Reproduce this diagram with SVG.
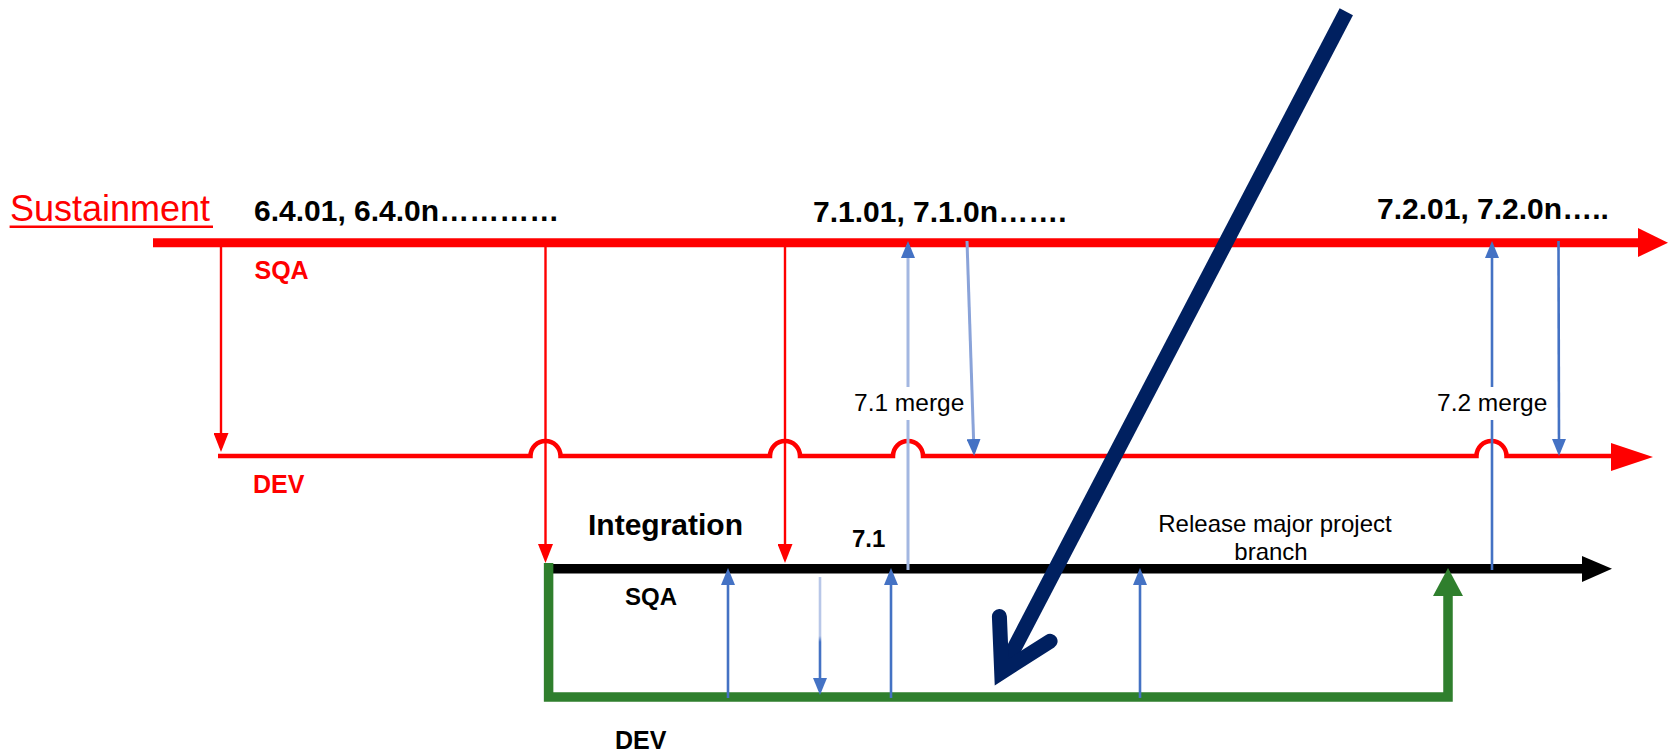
<svg xmlns="http://www.w3.org/2000/svg" width="1674" height="754" viewBox="0 0 1674 754">
<style>
text{font-family:"Liberation Sans",Arial,sans-serif}
.b{font-weight:bold}
.red{fill:#ff0000}
.blk{fill:#000}
.rl{stroke:#ff0000;stroke-width:2.4;fill:none}
.bl{stroke:#4472C4;stroke-width:2.6;fill:none}
.pl{stroke:#a3b7e1;stroke-width:3;fill:none}
</style>
<defs>
<marker id="ab" viewBox="0 0 17 14" refX="13" refY="7" markerWidth="17" markerHeight="14" markerUnits="userSpaceOnUse" orient="auto"><path d="M0,0L17,7L0,14z" fill="#4472C4"/></marker>
<marker id="ar" viewBox="0 0 19 15" refX="15" refY="7.5" markerWidth="19" markerHeight="15" markerUnits="userSpaceOnUse" orient="auto"><path d="M0,0L19,7.5L0,15z" fill="#ff0000"/></marker>
<linearGradient id="gdown" gradientUnits="userSpaceOnUse" x1="0" y1="577" x2="0" y2="695"><stop offset="0" stop-color="#b8c7e8"/><stop offset="0.5" stop-color="#b8c7e8"/><stop offset="0.55" stop-color="#4472C4"/><stop offset="1" stop-color="#4472C4"/></linearGradient>
</defs>

<g id="sustainment">
<text x="10" y="221" class="red" font-size="36">Sustainment</text>
<line x1="9.6" y1="226.7" x2="213" y2="226.7" stroke="#ff0000" stroke-width="2.5"/>
<line x1="153" y1="242.7" x2="1640" y2="242.7" stroke="#ff0000" stroke-width="9"/>
<polygon points="1638,228 1668,242.7 1638,257" fill="#ff0000"/>
<text x="254" y="221" class="b blk" font-size="30">6.4.01, 6.4.0n…………</text>
<text x="813" y="222" class="b blk" font-size="30">7.1.01, 7.1.0n…….</text>
<text x="1377" y="219" class="b blk" font-size="30">7.2.01, 7.2.0n…..</text>
<text x="254.5" y="279" class="b red" font-size="25">SQA</text>
</g>

<g id="sustainment-dev">
<path d="M218,456H530.5a15,15 0 0 1 30,0H770a15,15 0 0 1 30,0H893a15,15 0 0 1 30,0H1476.5a15,15 0 0 1 30,0H1614" stroke="#ff0000" stroke-width="4.5" fill="none"/>
<polygon points="1611,443 1653,457 1611,471" fill="#ff0000"/>
<text x="253" y="493" class="b red" font-size="25">DEV</text>
</g>

<g id="integration">
<text x="588" y="535" class="b blk" font-size="30">Integration</text>
<line x1="553" y1="568.7" x2="1585" y2="568.7" stroke="#000" stroke-width="9.5"/>
<polygon points="1582,556 1612,568.7 1582,582" fill="#000"/>
<text x="625" y="605" class="b blk" font-size="24">SQA</text>
<text x="852" y="547" class="b blk" font-size="24">7.1</text>
<text x="1275" y="532" class="blk" font-size="24" text-anchor="middle">Release major project</text>
<text x="1271" y="560" class="blk" font-size="24" text-anchor="middle">branch</text>
</g>

<g id="integration-dev">
<path d="M548.6,563V697H1448V594" stroke="#2f7f2d" stroke-width="9.5" fill="none"/>
<polygon points="1433,596 1448,568 1463,596" fill="#2f7f2d"/>
<text x="615" y="749" class="b blk" font-size="25">DEV</text>
</g>

<g id="merge-labels">
<text x="854" y="411" class="blk" font-size="24.5">7.1 merge</text>
<text x="1437" y="411" class="blk" font-size="24.5">7.2 merge</text>
</g>

<g id="connectors">
<line x1="221" y1="247" x2="221" y2="448" class="rl" marker-end="url(#ar)"/>
<line x1="545.5" y1="247" x2="545.5" y2="559" class="rl" marker-end="url(#ar)"/>
<line x1="785" y1="247" x2="785" y2="559" class="rl" marker-end="url(#ar)"/>
<line x1="908" y1="570" x2="908" y2="420" class="pl"/>
<line x1="908" y1="387" x2="908" y2="245" class="pl" marker-end="url(#ab)"/>
<line x1="967" y1="241" x2="974" y2="452" stroke="#8aa3d9" stroke-width="3" marker-end="url(#ab)"/>
<line x1="1492" y1="570" x2="1492" y2="420" class="bl"/>
<line x1="1492" y1="387" x2="1492" y2="245" class="bl" marker-end="url(#ab)"/>
<line x1="1558.5" y1="241" x2="1559" y2="452" class="bl" marker-end="url(#ab)"/>
<line x1="728" y1="698" x2="728" y2="572" class="bl" marker-end="url(#ab)"/>
<line x1="891" y1="698" x2="891" y2="572" class="bl" marker-end="url(#ab)"/>
<line x1="1140" y1="698" x2="1140" y2="572" class="bl" marker-end="url(#ab)"/>
<path d="M820,577V691" stroke="url(#gdown)" stroke-width="2.6" fill="none" marker-end="url(#ab)"/>
</g>

<g id="callout-arrow" stroke="#002060" stroke-width="15" fill="none">
<line x1="1346.3" y1="11.7" x2="1001.7" y2="672.1"/>
<polyline points="999.4,616.5 1001.7,672.1 1050.1,641.2" stroke-linecap="round" stroke-linejoin="miter"/>
</g>
</svg>
